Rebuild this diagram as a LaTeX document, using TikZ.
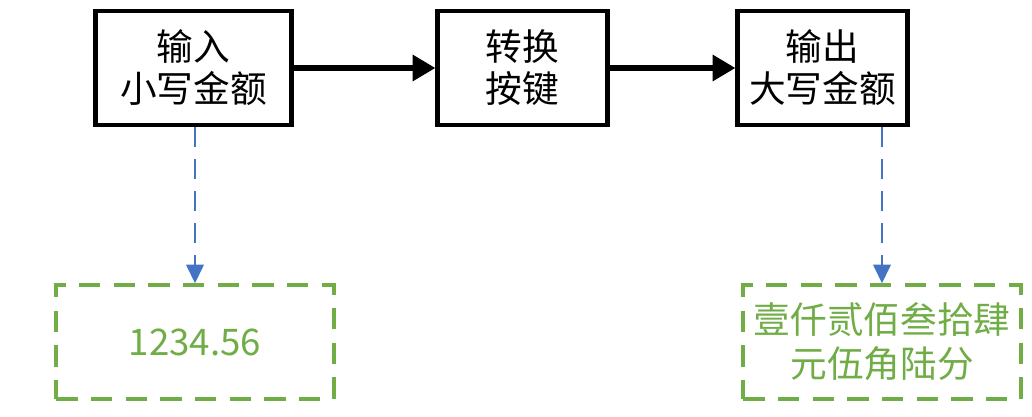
\documentclass[tikz,border=0pt]{standalone}
\usepackage{fontspec}
\setmainfont{Noto Sans CJK SC}
\usetikzlibrary{arrows.meta}
\definecolor{ogreen}{HTML}{70AD47}
\definecolor{oblue}{HTML}{4472C4}
\tikzset{
  procbox/.style={draw=black, line width=3.2pt, align=center, inner sep=0pt,
    font=\fontsize{27.5pt}{31.5pt}\selectfont},
  resbox/.style={draw=ogreen, line width=3pt, dash pattern=on 16pt off 10pt,
    text=ogreen, align=center, inner sep=0pt, minimum width=208pt, minimum height=85pt,
    font=\fontsize{27.5pt}{33pt}\selectfont},
  flow/.style={line width=3.8pt, -{Triangle[length=17pt,width=19pt]}},
  link/.style={draw=oblue, line width=1.9pt, dash pattern=on 15pt off 9pt,
    -{Triangle[length=14pt,width=13pt]}},
}
\begin{document}
\begin{tikzpicture}[x=0.75pt,y=-0.75pt]
\useasboundingbox (0,0) rectangle (1032,417);
\node[procbox, minimum width=147pt, minimum height=85.5pt] (in) at (193.5,68) {输入\\小写金额};
\node[procbox, minimum width=127.5pt, minimum height=85.5pt] (conv) at (522.5,68) {转换\\按键};
\node[procbox, minimum width=127.5pt, minimum height=85.5pt] (out) at (822.5,68) {输出\\大写金额};
\node[resbox] (small) at (195,342) {1234.56};
\node[resbox] (big) at (882,342) {壹仟贰佰叁拾肆\\元伍角陆分};
\draw[flow] (in) -- (conv);
\draw[flow] (conv) -- (out);
\draw[link] (small.north |- in.south) -- (small.north);
\draw[link] (big.north |- out.south) -- (big.north);
\end{tikzpicture}
\end{document}
